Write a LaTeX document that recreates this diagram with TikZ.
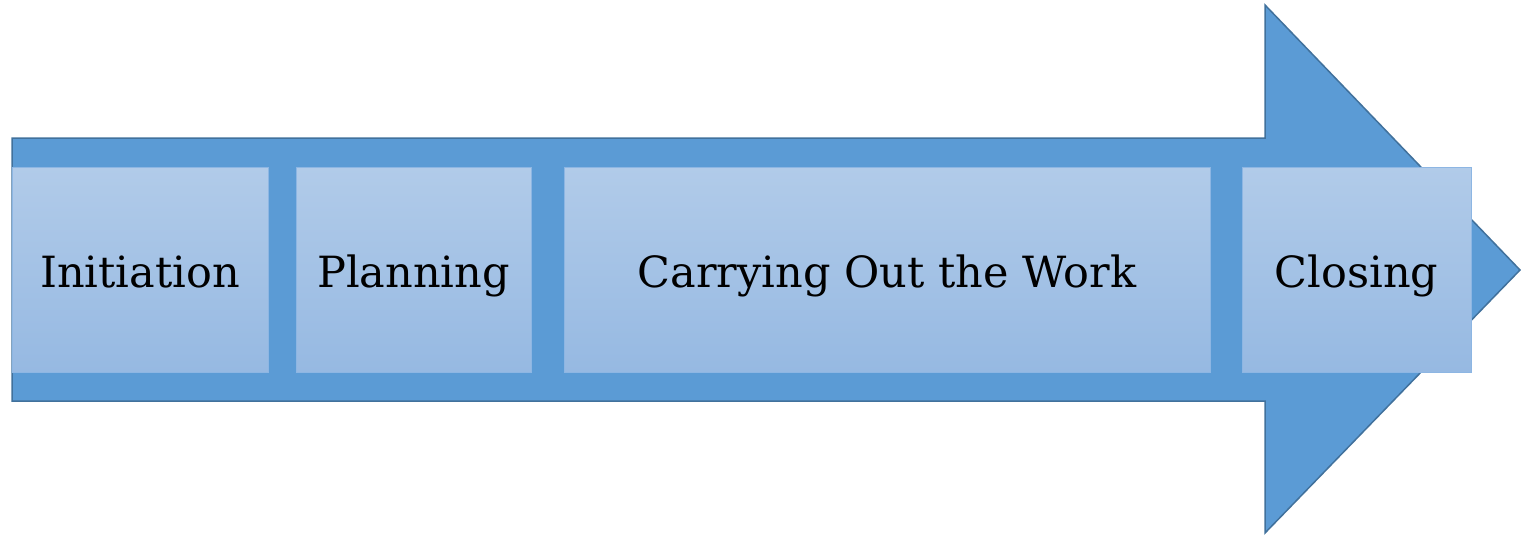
\documentclass[tikz,border=0pt]{standalone}
\usepackage{fontspec}
\setmainfont{DejaVu Serif}
\definecolor{arrowfill}{HTML}{5B9BD5}
\definecolor{arrowline}{HTML}{41719C}
\definecolor{boxtop}{HTML}{B1CBE9}
\definecolor{boxbot}{HTML}{96B9E2}
\definecolor{boxline}{HTML}{8DB6E3}
\tikzset{
  phase/.style={draw=boxline, line width=0.8pt, top color=boxtop, bottom color=boxbot,
    minimum height=205pt, inner sep=0pt, text height=44pt, text depth=9pt,
    font=\fontsize{43}{48}\selectfont, text=black},
  bigarrow/.style={fill=arrowfill, draw=arrowline, line width=1.5pt, line join=miter}
}
\begin{document}
\begin{tikzpicture}[x=1pt,y=-1pt]
\useasboundingbox (0,0) rectangle (1521,535);
\draw[bigarrow] (12,138) -- (1265,138) -- (1265,5) -- (1520,270) -- (1265,533) -- (1265,401) -- (12,401) -- cycle;
\node[phase, minimum width=256pt] (init) at (140,269.5) {Initiation};
\node[phase, minimum width=235pt] (plan) at (413.5,269.5) {Planning};
\node[phase, minimum width=646pt] (work) at (887,269.5) {Carrying Out the Work};
\node[phase, minimum width=229pt] (close) at (1356.5,269.5) {Closing};
\end{tikzpicture}
\end{document}
